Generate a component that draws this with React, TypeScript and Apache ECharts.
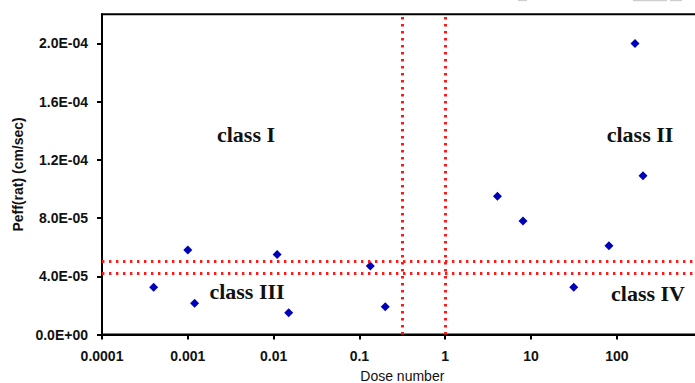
import React, { useEffect, useRef } from "react";
import * as echarts from "echarts";

// Data
const doseNumber = [0.0004, 0.001, 0.0012, 0.011, 0.015, 0.134, 0.2, 4.06, 8.07, 31.5, 81, 163, 202];
const peff = [3.25e-5, 5.8e-5, 2.15e-5, 5.5e-5, 1.5e-5, 4.7e-5, 1.9e-5, 9.5e-5, 7.8e-5, 3.25e-5, 6.1e-5, 2.0e-4, 1.09e-4];

const xTickLabels = ["0.0001", "0.001", "0.01", "0.1", "1", "10", "100"];
const yTicks = [0, 4e-5, 8e-5, 1.2e-4, 1.6e-4, 2.0e-4];

// class boundary lines
const doseBoundaries = [0.316, 1];
const peffBoundaries = [5.0e-5, 4.2e-5];
const xMin = 0.0001;
const xMax = 1000;
const yMin = 0;
const yMax = 2.2e-4;

const classLabels = ["class I", "class II", "class III", "class IV"];

function fmtSci(v: number): string {
  if (v === 0) return "0.0E+00";
  const [m, e] = v.toExponential(1).split("e");
  const n = parseInt(e, 10);
  const sign = n < 0 ? "-" : "+";
  const abs = Math.abs(n);
  return `${m}E${sign}${abs < 10 ? "0" + abs : abs}`;
}

export default function App() {
  const ref = useRef<HTMLDivElement>(null);
  useEffect(() => {
    if (!ref.current) return;
    const chart = echarts.init(ref.current, null, { renderer: "svg" });
    const redLine = {
      color: "#ff1a1a",
      width: 3,
      type: [2.4, 4.6] as any,
    };
    const classFont = {
      fontFamily: "'Liberation Serif', 'Times New Roman', serif",
      fontWeight: "bold",
      fontSize: 22,
      fill: "#111",
      align: "center",
      verticalAlign: "middle",
    };
    const classPos = [
      [246, 134],
      [640, 134],
      [247, 291],
      [648, 293],
    ];
    chart.setOption({
      animation: false,
      backgroundColor: "#ffffff",
      grid: {
        left: 102,
        top: 14.3,
        width: 600.6,
        height: 320.2,
        outerBoundsMode: "none",
        containLabel: false,
        show: true,
        borderColor: "#000",
        borderWidth: 2,
        backgroundColor: "transparent",
      },
      xAxis: {
        type: "log",
        logBase: 10,
        min: xMin,
        max: xMax,
        name: "Dose number",
        nameLocation: "middle",
        nameGap: 34,
        nameTextStyle: {
          fontFamily: "'Liberation Sans', Arial, sans-serif",
          fontSize: 14,
          color: "#111",
        },
        axisLine: { show: true, lineStyle: { color: "#000", width: 2 } },
        axisTick: { show: true, inside: false, length: 5, lineStyle: { color: "#000", width: 2 } },
        minorTick: { show: false },
        splitLine: { show: false },
        axisLabel: {
          margin: 14,
          fontFamily: "'Liberation Sans', Arial, sans-serif",
          fontWeight: "bold",
          fontSize: 14,
          color: "#111",
          formatter: (v: number) => {
            const idx = Math.round(Math.log10(v)) + 4;
            return xTickLabels[idx] ?? "";
          },
        },
      },
      yAxis: {
        type: "value",
        min: yMin,
        max: yMax,
        name: "Peff(rat) (cm/sec)",
        nameLocation: "middle",
        nameGap: 76,
        nameTextStyle: {
          fontFamily: "'Liberation Sans', Arial, sans-serif",
          fontWeight: "bold",
          fontSize: 14,
          color: "#111",
        },
        axisLine: { show: true, lineStyle: { color: "#000", width: 2 } },
        axisTick: {
          show: true,
          inside: false,
          length: 5,
          lineStyle: { color: "#000", width: 2 },
          customValues: yTicks,
        },
        splitLine: { show: false },
        axisLabel: {
          margin: 14,
          fontFamily: "'Liberation Sans', Arial, sans-serif",
          fontWeight: "bold",
          fontSize: 14,
          color: "#111",
          customValues: yTicks,
          formatter: (v: number) => fmtSci(v),
        },
      },
      series: [
        {
          type: "scatter",
          symbol: "diamond",
          symbolSize: 9,
          itemStyle: { color: "#0000b8", opacity: 1 },
          data: doseNumber.map((d, i) => [d, peff[i]]),
          z: 3,
          markLine: {
            silent: true,
            symbol: "none",
            label: { show: false },
            lineStyle: redLine,
            data: [
              ...doseBoundaries.map((x) => [
                { coord: [x, yMin] },
                { coord: [x, yMax] },
              ]),
              ...peffBoundaries.map((y) => [
                { coord: [xMin, y] },
                { coord: [xMax, y] },
              ]),
            ],
          },
        },
      ],
      graphic: [
        ...classLabels.map((t, i) => ({
          type: "text",
          x: classPos[i][0],
          y: classPos[i][1],
          style: { text: t, ...classFont },
        })),
        { type: "rect", shape: { x: 518, y: 0, width: 9, height: 1.2 }, style: { fill: "#cfcfcf" } },
        { type: "rect", shape: { x: 633, y: 0, width: 34, height: 1.2 }, style: { fill: "#cfcfcf" } },
        { type: "rect", shape: { x: 670, y: 0, width: 12, height: 1.2 }, style: { fill: "#cfcfcf" } },
      ],
    });
    return () => chart.dispose();
  }, []);
  return (
    <div
      ref={ref}
      style={{ position: "fixed", left: 0, top: 0, width: 695, height: 383 }}
    />
  );
}
